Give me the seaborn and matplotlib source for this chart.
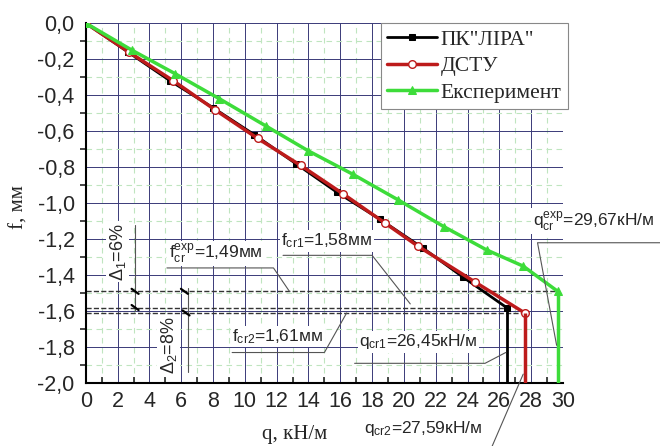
import matplotlib
matplotlib.use("Agg")
import matplotlib.pyplot as plt
import seaborn as sns
from matplotlib.ticker import MultipleLocator, FuncFormatter

# values
q_lira = [0, 2.65, 5.3, 8.0, 10.6, 13.2, 15.8, 18.5, 21.2, 23.7, 26.45]
f_lira = [0, -0.16, -0.32, -0.47, -0.62, -0.78, -0.94, -1.09, -1.25, -1.41, -1.58]
q_dstu = [0, 2.7, 5.5, 8.1, 10.8, 13.5, 16.2, 18.8, 20.9, 24.5, 27.59]
f_dstu = [0, -0.16, -0.32, -0.48, -0.64, -0.79, -0.95, -1.11, -1.24, -1.44, -1.61]
q_exp = [0, 2.9, 5.6, 8.4, 11.3, 14.0, 16.8, 19.6, 22.5, 25.2, 27.5, 29.67]
f_exp = [0, -0.15, -0.28, -0.42, -0.57, -0.71, -0.84, -0.98, -1.13, -1.26, -1.35, -1.49]

labels = ['ПК"ЛІРА"', 'ДСТУ', 'Експеримент']
q_cr = [26.45, 27.59, 29.67]
f_cr = [-1.58, -1.61, -1.49]

sns.set_style("white")
plt.rcParams['font.family'] = ['Liberation Sans', 'DejaVu Sans']
plt.rcParams['mathtext.default'] = 'regular'

fig = plt.figure(figsize=(6.6, 4.46), dpi=100)
ax = fig.add_axes([0.130, 0.141, 0.723, 0.807])

red = '#bd1b1b'
green = '#3ddc3a'

# grid
ax.xaxis.set_major_locator(MultipleLocator(2))
ax.xaxis.set_minor_locator(MultipleLocator(1))
ax.yaxis.set_major_locator(MultipleLocator(0.2))
ax.yaxis.set_minor_locator(MultipleLocator(0.1))
ax.grid(which='major', color='#3a3a78', lw=0.7)
ax.grid(which='minor', color='#bfe5bf', lw=0.8, ls=(0, (5, 4)))
ax.set_axisbelow(True)

# critical deflection levels
ax.hlines(f_cr, 0, q_cr, colors='#333333', linestyles='--', lw=1.0, zorder=2)

# curves
sns.lineplot(x=q_lira, y=f_lira, sort=False, ax=ax, color='black', lw=2,
             marker='s', markersize=4.5, markeredgecolor='black', label=labels[0], zorder=3)
sns.lineplot(x=q_dstu, y=f_dstu, sort=False, ax=ax, color=red, lw=2.5,
             marker='o', markersize=5.5, markerfacecolor='white', markeredgecolor=red,
             markeredgewidth=1, label=labels[1], zorder=4)
sns.lineplot(x=q_exp, y=f_exp, sort=False, ax=ax, color=green, lw=2.5,
             marker='^', markersize=6, markeredgecolor=green, label=labels[2], zorder=4)

# vertical drops at failure load
ax.vlines(q_cr[0], -2.0, f_cr[0], colors='black', lw=2, zorder=3)
ax.vlines(q_cr[1], -2.0, f_cr[1], colors=red, lw=2.5, zorder=4)
ax.vlines(q_cr[2], -2.0, f_cr[2], colors=green, lw=2.5, zorder=4)

ax.set_xlim(0, 30)
ax.set_ylim(-2.0, 0.0)

ax.xaxis.set_major_formatter(FuncFormatter(lambda v, p: f"{v:.0f}"))
ax.yaxis.set_major_formatter(FuncFormatter(lambda v, p: f"{v:.1f}".replace('.', ',').replace('-0,0', '0,0')))
ax.tick_params(axis='both', which='major', labelsize=15.5, length=6, width=1.2, color='black', pad=2)
ax.tick_params(axis='x', which='major', direction='inout', length=8)
ax.tick_params(axis='x', which='minor', direction='in', length=4, width=1.2, bottom=True)
ax.tick_params(axis='y', which='minor', direction='out', length=4, width=1.2, left=True)
ax.tick_params(axis='y', which='major', direction='out')

for s in ['top', 'right']:
    ax.spines[s].set_visible(False)
for s in ['left', 'bottom']:
    ax.spines[s].set_color('black')
    ax.spines[s].set_linewidth(1.5)

ax.set_xlabel('q, кН/м', fontsize=15, family='Liberation Serif')
ax.set_ylabel('f, мм', fontsize=15, family='Liberation Serif')
ax.xaxis.set_label_coords(0.438, -0.115)
ax.yaxis.set_label_coords(-0.12, 0.49)

leg = ax.legend(loc='upper right', bbox_to_anchor=(0.861, 0.948), bbox_transform=fig.transFigure,
                borderaxespad=0, fancybox=False, framealpha=1, edgecolor='#888888',
                prop={'family': 'Liberation Serif', 'size': 15.5}, handlelength=2.3,
                handletextpad=0.2, labelspacing=0.3, borderpad=0.3)
leg.get_frame().set_linewidth(0.8)
leg.set_zorder(10)

# annotations
ann = dict(fontsize=12.5, va='center', ha='left', zorder=6,
           bbox=dict(facecolor='white', edgecolor='none', pad=1))
lc = dict(color='#555555', lw=0.8, zorder=5, clip_on=False)

ax.text(5.2, -1.28, r'f$_{cr}^{exp}$=1,49мм', **ann)
ax.plot([5.1, 11.8, 12.8], [-1.36, -1.36, -1.49], **lc)

ax.text(12.3, -1.21, r'f$_{cr1}$=1,58мм', **ann)
ax.plot([12.4, 18.0, 20.4], [-1.29, -1.29, -1.56], **lc)

ax.text(9.2, -1.74, r'f$_{cr2}$=1,61мм', **ann)
ax.plot([9.2, 15.0, 16.4], [-1.83, -1.83, -1.61], **lc)

ax.text(17.2, -1.77, r'q$_{cr1}$=26,45кН/м', **ann)
ax.plot([16.9, 25.1, 26.4], [-1.89, -1.89, -1.83], **lc)

ax.text(17.5, -2.25, r'q$_{cr2}$=27,59кН/м', **ann)
ax.plot([25.5, 27.5], [-2.36, -1.95], **lc)

ax.text(28.1, -1.10, r'q$_{cr}^{exp}$=29,67кН/м', clip_on=False, **ann)
ax.plot([36.4, 28.4, 29.6], [-1.22, -1.22, -1.79], **lc)

# deltas
ax.text(2.0, -1.27, r'Δ$_1$=6%', rotation=90, fontsize=13, ha='center', va='center',
        zorder=6, bbox=dict(facecolor='white', edgecolor='none', pad=1))
ax.text(5.2, -1.79, r'Δ$_2$=8%', rotation=90, fontsize=13, ha='center', va='center',
        zorder=6, bbox=dict(facecolor='white', edgecolor='none', pad=1))
ax.plot([3.1, 3.1], [-1.12, -1.6], **lc)
ax.plot([6.4, 6.4], [-1.47, -1.94], **lc)
for x, y in [(3.1, -1.49), (3.1, -1.58), (6.2, -1.49), (6.3, -1.61)]:
    ax.plot([x - 0.22, x + 0.22], [y + 0.014, y - 0.014], color='black', lw=1.6, zorder=6)

fig.savefig('out.png', dpi=100)
